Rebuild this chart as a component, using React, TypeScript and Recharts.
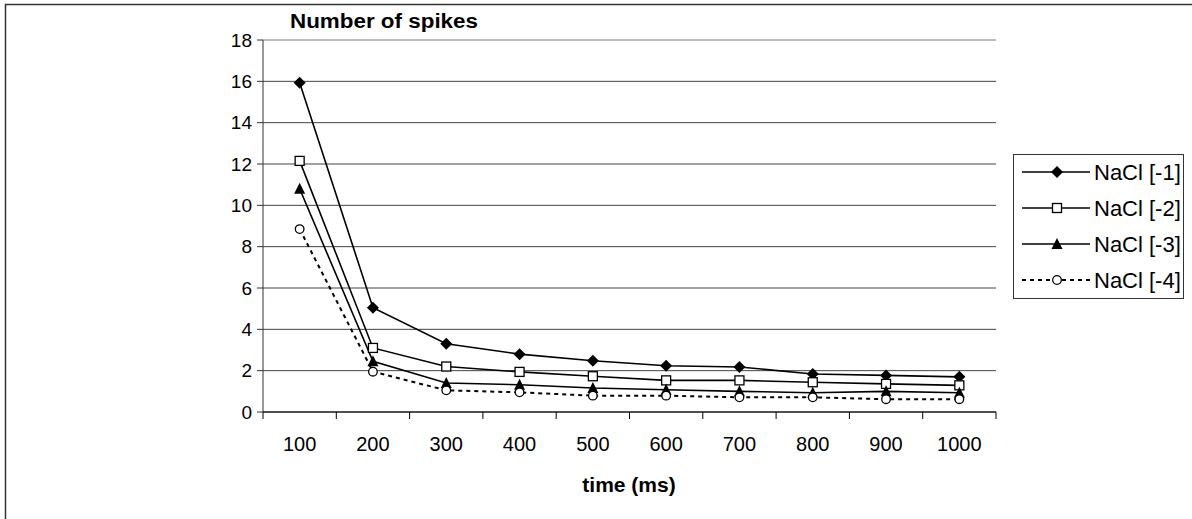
/**
 * Number of spikes vs. time, four NaCl concentrations.
 */

import { LineChart, Line, XAxis, YAxis, CartesianGrid, ReferenceLine } from 'recharts'

const times = [100, 200, 300, 400, 500, 600, 700, 800, 900, 1000]
const nacl1 = [15.93, 5.05, 3.3, 2.8, 2.48, 2.24, 2.18, 1.84, 1.77, 1.7]
const nacl2 = [12.15, 3.1, 2.2, 1.94, 1.73, 1.53, 1.53, 1.44, 1.36, 1.29]
const nacl3 = [10.8, 2.45, 1.4, 1.32, 1.16, 1.08, 1.0, 0.93, 1.0, 0.93]
const nacl4 = [8.85, 1.95, 1.05, 0.95, 0.79, 0.79, 0.71, 0.71, 0.62, 0.62]
const seriesNames = ['NaCl [-1]', 'NaCl [-2]', 'NaCl [-3]', 'NaCl [-4]']
const yTicks = [0, 2, 4, 6, 8, 10, 12, 14, 16, 18]

const FONT = '"Liberation Sans", Arial, sans-serif'

const chartData = times.map((t, i) => ({
  t,
  s1: nacl1[i],
  s2: nacl2[i],
  s3: nacl3[i],
  s4: nacl4[i],
}))

// ticks on category borders (lines) and centres (labels)
const step = times[1] - times[0]
const xTicks: number[] = []
times.forEach(t => {
  xTicks.push(t - step / 2)
  xTicks.push(t)
})
xTicks.push(times[times.length - 1] + step / 2)

const diamond = (cx: number, cy: number, k?: any) => (
  <path key={k} d={`M${cx},${cy - 6}L${cx + 6},${cy}L${cx},${cy + 6}L${cx - 6},${cy}Z`} fill="#000" />
)
const square = (cx: number, cy: number, k?: any) => (
  <rect key={k} x={cx - 4.5} y={cy - 4.5} width={9} height={9} fill="#fff" stroke="#000" strokeWidth={1.3} />
)
const triangle = (cx: number, cy: number, k?: any) => (
  <path key={k} d={`M${cx},${cy - 6}L${cx + 5.5},${cy + 5}L${cx - 5.5},${cy + 5}Z`} fill="#000" />
)
const circle = (cx: number, cy: number, k?: any) => (
  <circle key={k} cx={cx} cy={cy} r={4.3} fill="#fff" stroke="#000" strokeWidth={1.3} />
)
const markers = [diamond, square, triangle, circle]

const XTick = ({ x, y, payload }: any) => {
  const v = payload.value
  if (times.includes(v)) {
    return (
      <text x={x} y={y + 39} textAnchor="middle" fontSize={20} fill="#000" fontFamily={FONT}>
        {v}
      </text>
    )
  }
  return <line x1={x} x2={x} y1={y} y2={y + 7} stroke="#000" strokeWidth={1} />
}

export default function App() {
  const keys = ['s1', 's2', 's3', 's4']
  return (
    <div style={{ position: 'absolute', left: 0, top: 0, width: 1192, height: 519, background: '#fff' }}>
      <LineChart
        width={1192}
        height={519}
        data={chartData}
        margin={{ top: 40, right: 196, left: 0, bottom: 0 }}
        style={{ fontFamily: FONT }}
      >
        <CartesianGrid vertical={false} stroke="#444" />
        <ReferenceLine y={18} stroke="#d8d8d8" />
        <XAxis
          dataKey="t"
          type="number"
          domain={[times[0] - step / 2, times[times.length - 1] + step / 2]}
          ticks={xTicks}
          interval={0}
          height={107}
          tickSize={0}
          tickMargin={0}
          tickLine={false}
          tick={<XTick />}
          axisLine={{ stroke: '#000' }}
        />
        <YAxis
          domain={[0, 18]}
          ticks={yTicks}
          width={263}
          tickSize={6}
          tickMargin={5}
          interval={0}
          axisLine={{ stroke: '#333' }}
          tickLine={{ stroke: '#333' }}
          tick={{ fontSize: 19, fill: '#000', fontFamily: FONT }}
        />
        {keys.map((k, i) => (
          <Line
            key={k}
            dataKey={k}
            name={seriesNames[i]}
            stroke="#000"
            strokeWidth={i === 3 ? 2 : 1.6}
            strokeDasharray={i === 3 ? '4 4' : undefined}
            isAnimationActive={false}
            dot={(p: any) => markers[i](p.cx, p.cy, `${k}-${p.index}`)}
            activeDot={false}
          />
        ))}
      </LineChart>
      <svg
        width={1192}
        height={519}
        style={{ position: 'absolute', left: 0, top: 0, pointerEvents: 'none' }}
      >
        <rect x={5.5} y={4.5} width={1300} height={700} fill="none" stroke="#333" strokeWidth={1.5} />
        <text
          x={290}
          y={28}
          fontSize={20}
          fontWeight="bold"
          fontFamily={FONT}
          textLength={188}
          lengthAdjust="spacingAndGlyphs"
        >
          Number of spikes
        </text>
        <text x={629} y={492} fontSize={21} fontWeight="bold" fontFamily={FONT} textAnchor="middle">
          time (ms)
        </text>
        <rect x={1013.5} y={154.5} width={170} height={144} fill="#fff" stroke="#333" strokeWidth={1} />
        {seriesNames.map((n, i) => {
          const cy = 172 + i * 36
          return (
            <g key={n}>
              <line
                x1={1022}
                x2={1090}
                y1={cy}
                y2={cy}
                stroke="#000"
                strokeWidth={i === 3 ? 2 : 1.6}
                strokeDasharray={i === 3 ? '4 4' : undefined}
              />
              {markers[i](1057, cy)}
              <text x={1094} y={cy} dy="0.35em" fontSize={22} fontFamily={FONT} fill="#000">
                {n}
              </text>
            </g>
          )
        })}
      </svg>
    </div>
  )
}
